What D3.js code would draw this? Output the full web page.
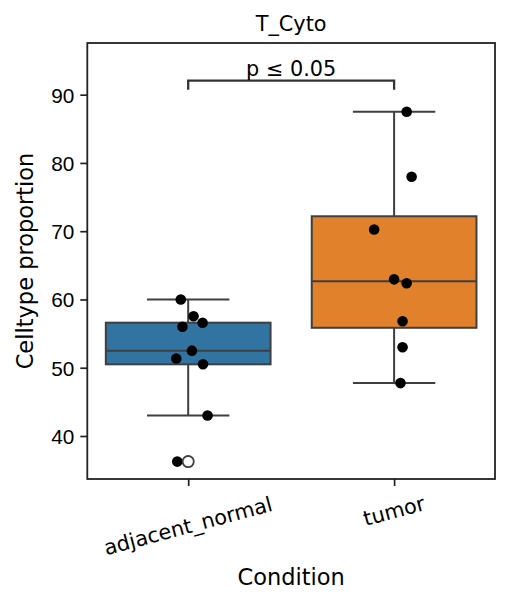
<!DOCTYPE html>
<html lang="en">
<head>
<meta charset="UTF-8">
<title>T_Cyto</title>
<script src="https://d3js.org/d3.v7.min.js"></script>
<style>
    body { margin: 0; background: #fff; }
    svg { display: block; font-family: "DejaVu Sans", sans-serif; }
    .tick text { font-size: 20.8px; fill: #000; }
    .tick line { stroke: #222; stroke-width: 1.7px; }
</style>
</head>
<body>
<svg id="chart" width="509" height="605"></svg>
<script>
    const categories = ["adjacent_normal", "tumor"];
    const boxColors = ["#3274a1", "#e1812c"];
    // values per condition
    const normalValues = [60.0, 57.55, 56.6, 56.0, 52.5, 51.35, 50.5, 43.0, 36.25];
    const tumorValues = [87.5, 77.97, 70.26, 62.95, 62.37, 56.8, 53.0, 47.75];
    // strip jitter (category units) for each point above
    const normalJitter = [-0.036, 0.026, 0.07, -0.028, 0.018, -0.058, 0.072, 0.094, -0.053];
    const tumorJitter = [0.061, 0.085, -0.097, 0, 0.061, 0.041, 0.041, 0.031];
    const yTicks = [40, 50, 60, 70, 80, 90];
    const pLabel = "p \u2264 0.05";
    const bracket = {y: 92.05, tip: 90.73};

    const width = 509, height = 605;
    const margin = {top: 43, right: 14, bottom: 126, left: 87.3};
    const plotW = width - margin.left - margin.right;
    const plotH = height - margin.top - margin.bottom;

    const svg = d3.select("#chart");
    const g = svg.append("g").attr("transform", `translate(${margin.left},${margin.top})`);

    const x = d3.scaleLinear().domain([-0.49, 1.49]).range([0, plotW]);
    const y = d3.scaleLinear().domain([33.7, 97.57]).range([plotH, 0]);

    const groups = [
        {values: normalValues, jitter: normalJitter},
        {values: tumorValues, jitter: tumorJitter}
    ];

    function boxStats(vals) {
        const s = vals.slice().sort(d3.ascending);
        const q1 = d3.quantile(s, 0.25), med = d3.quantile(s, 0.5), q3 = d3.quantile(s, 0.75);
        const iqr = q3 - q1;
        const lo = d3.min(s.filter(v => v >= q1 - 1.5 * iqr));
        const hi = d3.max(s.filter(v => v <= q3 + 1.5 * iqr));
        const fliers = s.filter(v => v < lo || v > hi);
        return {q1, med, q3, lo, hi, fliers};
    }

    const boxW = x(0.4) - x(0);
    const lineCol = "#3f3f3f";
    const lw = 2;

    // boxes and whiskers
    groups.forEach((grp, i) => {
        const st = boxStats(grp.values);
        const cx = x(i);
        const bg = g.append("g");
        bg.append("line").attr("x1", cx).attr("x2", cx).attr("y1", y(st.q3)).attr("y2", y(st.hi))
            .attr("stroke", lineCol).attr("stroke-width", lw);
        bg.append("line").attr("x1", cx).attr("x2", cx).attr("y1", y(st.q1)).attr("y2", y(st.lo))
            .attr("stroke", lineCol).attr("stroke-width", lw);
        [st.hi, st.lo].forEach(v => {
            bg.append("line").attr("x1", cx - boxW / 2).attr("x2", cx + boxW / 2)
                .attr("y1", y(v)).attr("y2", y(v))
                .attr("stroke", lineCol).attr("stroke-width", lw);
        });
        bg.append("rect")
            .attr("x", cx - boxW).attr("width", boxW * 2)
            .attr("y", y(st.q3)).attr("height", y(st.q1) - y(st.q3))
            .attr("fill", boxColors[i]).attr("stroke", lineCol).attr("stroke-width", lw);
        bg.append("line").attr("x1", cx - boxW).attr("x2", cx + boxW)
            .attr("y1", y(st.med)).attr("y2", y(st.med))
            .attr("stroke", lineCol).attr("stroke-width", lw);
        grp.fliers = st.fliers;
    });

    // strip points
    groups.forEach((grp, i) => {
        g.append("g").selectAll("circle")
            .data(grp.values)
            .join("circle")
            .attr("cx", (d, j) => x(i + grp.jitter[j]))
            .attr("cy", d => y(d))
            .attr("r", 5.3)
            .attr("fill", "#000");
    });

    // fliers on top
    groups.forEach((grp, i) => {
        g.append("g").selectAll("circle")
            .data(grp.fliers)
            .join("circle")
            .attr("cx", x(i))
            .attr("cy", d => y(d))
            .attr("r", 5.6)
            .attr("fill", "#fff")
            .attr("stroke", lineCol)
            .attr("stroke-width", 1.8);
    });

    // significance bracket
    g.append("path")
        .attr("d", `M${x(0)},${y(bracket.tip)}V${y(bracket.y)}H${x(1)}V${y(bracket.tip)}`)
        .attr("fill", "none").attr("stroke", "#333").attr("stroke-width", 2.3);
    g.append("text")
        .attr("x", (x(0) + x(1)) / 2).attr("y", y(bracket.y) - 5)
        .attr("text-anchor", "middle").attr("font-size", "20.8px")
        .text(pLabel);

    // y axis
    const yAxis = g.append("g")
        .call(d3.axisLeft(y).tickValues(yTicks).tickSize(7).tickPadding(6));
    yAxis.select(".domain").remove();
    yAxis.selectAll(".tick text").attr("dy", "0.36em");

    // x axis
    const xAxis = g.append("g")
        .attr("transform", `translate(0,${plotH})`)
        .call(d3.axisBottom(x).tickValues([0, 1]).tickSize(7).tickFormat(""));
    xAxis.select(".domain").remove();
    categories.forEach((c, i) => {
        const fs = 20.8;
        const w = c.length * 0.557 * fs;
        const bh = w * Math.sin(15 * Math.PI / 180) + 1.16 * fs * Math.cos(15 * Math.PI / 180);
        const cy = plotH + 13 + bh / 2;
        g.append("text")
            .attr("transform", `translate(${x(i)},${cy}) rotate(-15)`)
            .attr("text-anchor", "middle")
            .attr("dominant-baseline", "central")
            .attr("font-size", fs + "px")
            .text(c);
    });

    // frame
    g.append("rect")
        .attr("width", plotW).attr("height", plotH)
        .attr("fill", "none").attr("stroke", "#222").attr("stroke-width", 1.8);

    // labels
    svg.append("text")
        .attr("x", margin.left + plotW / 2).attr("y", 31)
        .attr("text-anchor", "middle").attr("font-size", "20.8px")
        .text("T_Cyto");
    svg.append("text")
        .attr("x", margin.left + plotW / 2).attr("y", 585)
        .attr("text-anchor", "middle").attr("font-size", "22.5px")
        .text("Condition");
    svg.append("text")
        .attr("transform", `translate(33,${margin.top + plotH / 2}) rotate(-90)`)
        .attr("text-anchor", "middle").attr("font-size", "22.5px")
        .text("Celltype proportion");
</script>
</body>
</html>
